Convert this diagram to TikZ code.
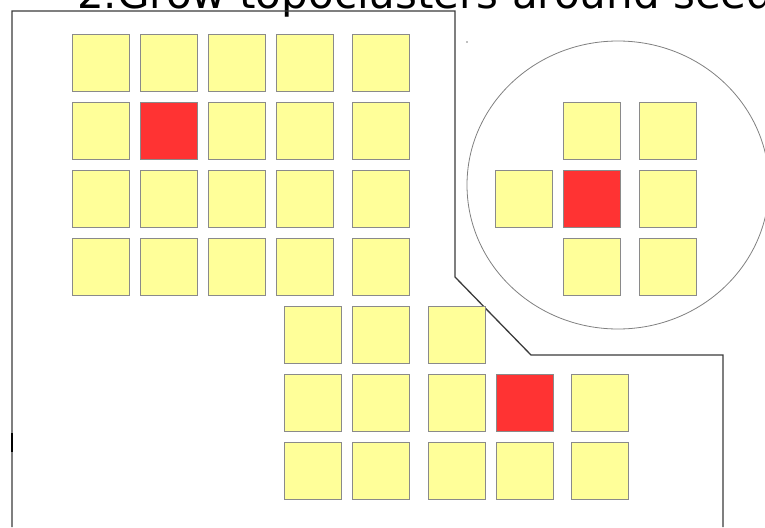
\documentclass[tikz,border=0pt]{standalone}
\usepackage{fontspec}
\setmainfont{DejaVu Sans}
\usepackage{tikz}
\usetikzlibrary{positioning}
\definecolor{CellYellow}{HTML}{FFFF99}
\definecolor{SeedRed}{HTML}{FF3333}
\definecolor{CellBorder}{HTML}{8A8A8A}
\definecolor{OutlineGray}{HTML}{3A3A3A}
\tikzset{
  cell/.style={draw=CellBorder, line width=1.3pt, fill=CellYellow, minimum size=57pt, inner sep=0pt},
  seedcell/.style={cell, fill=SeedRed},
}

\begin{document}
\begin{tikzpicture}[x=1pt, y=-1pt]
  \useasboundingbox (0,0) rectangle (765,527);
  \clip (0,0) rectangle (765,527);

  % Title (cut by the page edge)
  \node[anchor=base west, inner sep=0pt, font=\fontsize{42}{48}\selectfont] (title) at (77,9) {2.Grow topoclusters around seed};

  % Outline of the region
  \draw[color=OutlineGray, line width=1.3pt] (12,527) -- (12,11) -- (455,11) -- (455,277) -- (531,355) -- (723,355) -- (723,527);
  \draw[black, line width=2.2pt] (12,433) -- (12,452);
  \fill[gray] (467,42) circle (0.8pt);

  % Circle round the grown cluster
  \draw[color=gray, line width=0.8pt] (618,185) ellipse (151 and 144);

  % Upper left block (4 rows x 5 columns)
  \foreach \row/\y in {1/63, 2/131, 3/199, 4/267}
    \foreach \col/\x in {1/101, 2/169, 3/237, 4/305, 5/381}
      \node[cell] (a\row\col) at (\x,\y) {};
  \node[seedcell] (seedA) at (a22) {};

  % Lower block
  \node[cell] (b11) at (313,335) {};
  \node[cell] (b12) at (381,335) {};
  \node[cell] (b13) at (457,335) {};
  \foreach \row/\y in {2/403, 3/471}
    \foreach \col/\x in {1/313, 2/381, 3/457, 4/525, 5/600}
      \node[cell] (b\row\col) at (\x,\y) {};
  \node[seedcell] (seedB) at (b24) {};

  % Cluster inside the circle
  \node[cell] (c12) at (592,131) {};
  \node[cell] (c13) at (668,131) {};
  \node[cell] (c21) at (524,199) {};
  \node[seedcell] (seedC) at (592,199) {};
  \node[cell] (c23) at (668,199) {};
  \node[cell] (c32) at (592,267) {};
  \node[cell] (c33) at (668,267) {};
\end{tikzpicture}
\end{document}
